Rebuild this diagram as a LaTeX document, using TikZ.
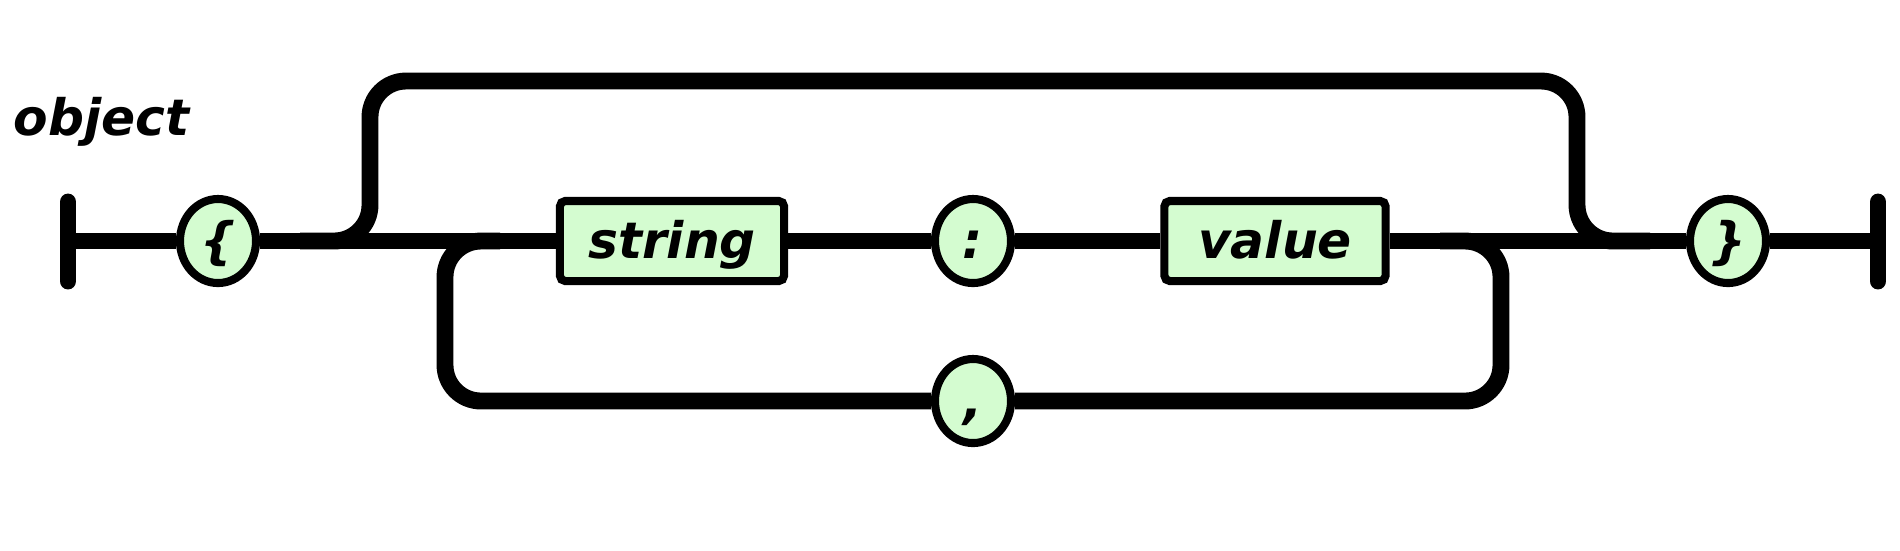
\documentclass[tikz,border=0pt]{standalone}
\usepackage{fontspec}
\setmainfont{DejaVu Sans}
\usetikzlibrary{shapes.geometric}
\definecolor{termgreen}{RGB}{212,252,208}
\newcommand\railfont{\fontsize{14.3}{16}\selectfont\bfseries\itshape}

\begin{document}
\begin{tikzpicture}[x=0.01cm,y=-0.01cm,
  rail/.style={line width=4.8pt, rounded corners=0.36cm},
  railend/.style={line width=4.8pt, line cap=round},
  term/.style={ellipse, draw, fill=termgreen, line width=2.3pt,
    minimum width=0.76cm, minimum height=0.84cm, inner sep=0pt,
    font=\railfont, text height=9.7pt, text depth=0pt},
  nonterm/.style={rectangle, draw, fill=termgreen, line width=2.3pt,
    rounded corners=1.5pt, minimum height=0.80cm, inner sep=0pt,
    font=\railfont, text height=9.7pt, text depth=0pt}]

   \useasboundingbox (0,0) rectangle (1900,550);

   \node[anchor=base west, inner sep=0pt, font=\railfont] (title) at (13,135) {object};

   % terminals and boxes
   \node[term] (lbrace) at (218,241) {\{};
   \node[nonterm, minimum width=2.24cm] (string) at (672,241) {string};
   \node[term] (colon) at (973,241) {:};
   \node[nonterm, minimum width=2.21cm] (value) at (1275,241) {value};
   \node[term] (rbrace) at (1728,241) {\}};
   \node[term] (comma) at (973,401) {,};

   % end bars
   \coordinate (entryT) at (68,202);
   \coordinate (entryB) at (68,281);
   \coordinate (entry) at (68,241);
   \coordinate (exitT) at (1878,202);
   \coordinate (exitB) at (1878,281);
   \coordinate (exit) at (1878,241);
   \draw[railend] (entryT) -- (entryB);
   \draw[railend] (exitT) -- (exitB);

   % main line
   \foreach \a/\b in {entry/lbrace, lbrace/string, string/colon, colon/value, value/rbrace, rbrace/exit}
     \draw[rail] (\a) -- (\b);

   % empty object bypass
   \coordinate (byL) at (300,241);
   \coordinate (byA) at (370,241);
   \coordinate (byB) at (370,81);
   \coordinate (byC) at (1577,81);
   \coordinate (byD) at (1577,241);
   \coordinate (byR) at (1650,241);
   \draw[rail] (byL) -- (byA) -- (byB) -- (byC) -- (byD) -- (byR);

   % comma loop
   \coordinate (lpL) at (500,241);
   \coordinate (lpA) at (445,241);
   \coordinate (lpB) at (445,401);
   \coordinate (lpC) at (1501,401);
   \coordinate (lpD) at (1501,241);
   \coordinate (lpR) at (1440,241);
   \draw[rail] (lpR) -- (lpD) -- (lpC) -- (comma);
   \draw[rail] (comma) -- (lpB) -- (lpA) -- (lpL);
\end{tikzpicture}
\end{document}
